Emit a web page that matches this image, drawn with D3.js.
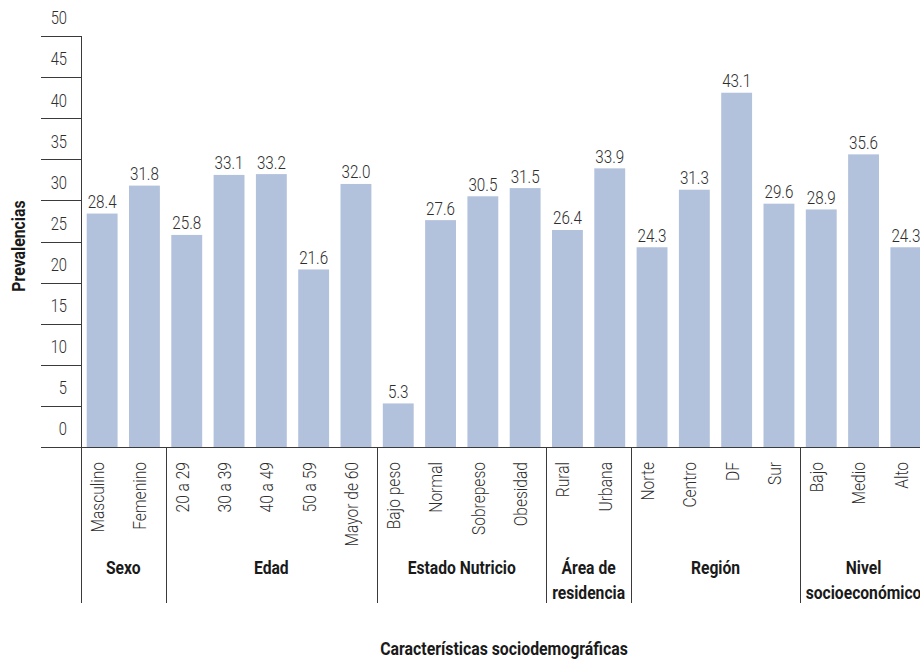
<!DOCTYPE html>
<html>
<head>
<meta charset="utf-8">
<script src="https://cdn.jsdelivr.net/npm/d3@7"></script>
<style>
  body { margin: 0; background: #fff; }
  svg text { font-family: Roboto, "Open Sans", "DejaVu Sans", sans-serif; }
</style>
</head>
<body>
<svg id="chart" width="920" height="659"></svg>
<script>
// categories and prevalences
const categories = ["Masculino", "Femenino", "20 a 29", "30 a 39", "40 a 49", "50 a 59", "Mayor de 60",
    "Bajo peso", "Normal", "Sobrepeso", "Obesidad", "Rural", "Urbana",
    "Norte", "Centro", "DF", "Sur", "Bajo", "Medio", "Alto"];
const values = [28.4, 31.8, 25.8, 33.1, 33.2, 21.6, 32.0,
    5.3, 27.6, 30.5, 31.5, 26.4, 33.9,
    24.3, 31.3, 43.1, 29.6, 28.9, 35.6, 24.3];
const groupNames = [["Sexo"], ["Edad"], ["Estado Nutricio"], ["Área de", "residencia"], ["Región"], ["Nivel", "socioeconómico"]];
const groupSizes = [2, 5, 4, 2, 4, 3];
const yTicks = [0, 5, 10, 15, 20, 25, 30, 35, 40, 45, 50];

const svg = d3.select("#chart");
const plotLeft = 81, plotRight = 927, plotTop = 36, base = 447, groupBottom = 603;
const barColor = "#b3c2dc", lineColor = "#3a3a3a", textColor = "#2e2e2e", boldColor = "#1a1a1a";

const x = d3.scaleBand()
    .domain(categories)
    .range([plotLeft, plotRight])
    .paddingInner(0.27)
    .paddingOuter(0.135);
const y = d3.scaleLinear().domain([0, 50]).range([base, plotTop]);

// the original face is a condensed one, so narrow the text horizontally
function place(px, py, rot, squeeze){
    return "translate(" + px + "," + py + ")" + (rot ? " rotate(" + rot + ")" : "") + " scale(" + squeeze + ",1)";
}

// bars
svg.append("g")
    .selectAll("rect")
    .data(values)
    .join("rect")
    .attr("x", (d, i) => x(categories[i]))
    .attr("y", d => y(d))
    .attr("width", x.bandwidth())
    .attr("height", d => base - y(d))
    .attr("fill", barColor);

// value labels
svg.append("g")
    .selectAll("text")
    .data(values)
    .join("text")
    .attr("transform", (d, i) => place(x(categories[i]) + x.bandwidth() / 2, y(d) - 5.5, 0, 0.8))
    .attr("text-anchor", "middle")
    .attr("font-size", 19)
    .attr("font-weight", 300)
    .attr("fill", textColor)
    .text(d => d.toFixed(1));

// y ticks: short lines left of the axis, labels sit between lines
const yAxis = svg.append("g");
yAxis.selectAll("line")
    .data(yTicks.slice(1))
    .join("line")
    .attr("x1", 41).attr("x2", plotLeft)
    .attr("y1", d => Math.round(y(d)) + 0.5)
    .attr("y2", d => Math.round(y(d)) + 0.5)
    .attr("stroke", lineColor);
yAxis.selectAll("text")
    .data(yTicks)
    .join("text")
    .attr("transform", d => place(67, y(d) - 18, 0, 0.82))
    .attr("dy", "0.35em")
    .attr("text-anchor", "end")
    .attr("font-size", 18)
    .attr("font-weight", 300)
    .attr("fill", textColor)
    .text(d => d);

// baseline and vertical axis
svg.append("line")
    .attr("x1", 41).attr("x2", 920)
    .attr("y1", base + 0.5).attr("y2", base + 0.5)
    .attr("stroke", lineColor);
svg.append("line")
    .attr("x1", plotLeft + 0.5).attr("x2", plotLeft + 0.5)
    .attr("y1", plotTop).attr("y2", groupBottom)
    .attr("stroke", lineColor);

// category labels, rotated
svg.append("g")
    .selectAll("text")
    .data(categories)
    .join("text")
    .attr("transform", d => place(x(d) + x.bandwidth() / 2, 462, -90, 0.82))
    .attr("text-anchor", "end")
    .attr("dy", "0.1em")
    .attr("font-size", 19)
    .attr("font-weight", 300)
    .attr("fill", textColor)
    .text(d => d);

// group separators and group labels
let start = 0;
const groups = svg.append("g");
groupSizes.forEach(function(size, gi){
    const first = categories[start], last = categories[start + size - 1];
    const x0 = x(first) - x.step() * x.paddingInner() / 2;
    const x1 = x(last) + x.bandwidth() + x.step() * x.paddingInner() / 2;
    if(gi < groupSizes.length - 1){
        groups.append("line")
            .attr("x1", Math.round(x1) + 0.5).attr("x2", Math.round(x1) + 0.5)
            .attr("y1", base).attr("y2", groupBottom)
            .attr("stroke", lineColor);
    }
    groupNames[gi].forEach(function(line, li){
        groups.append("text")
            .attr("transform", place((x0 + x1) / 2, 574 + li * 25, 0, 0.87))
            .attr("text-anchor", "middle")
            .attr("font-size", 18)
            .attr("font-weight", "bold")
            .attr("fill", boldColor)
            .text(line);
    });
    start += size;
});

// axis titles
svg.append("text")
    .attr("transform", place(19, 246, -90, 0.88))
    .attr("text-anchor", "middle")
    .attr("dy", "0.35em")
    .attr("font-size", 18)
    .attr("font-weight", "bold")
    .attr("fill", boldColor)
    .text("Prevalencias");
svg.append("text")
    .attr("transform", place((plotLeft + plotRight) / 2, 655, 0, 0.88))
    .attr("text-anchor", "middle")
    .attr("font-size", 18)
    .attr("font-weight", "bold")
    .attr("fill", boldColor)
    .text("Características sociodemográficas");
</script>
</body>
</html>
